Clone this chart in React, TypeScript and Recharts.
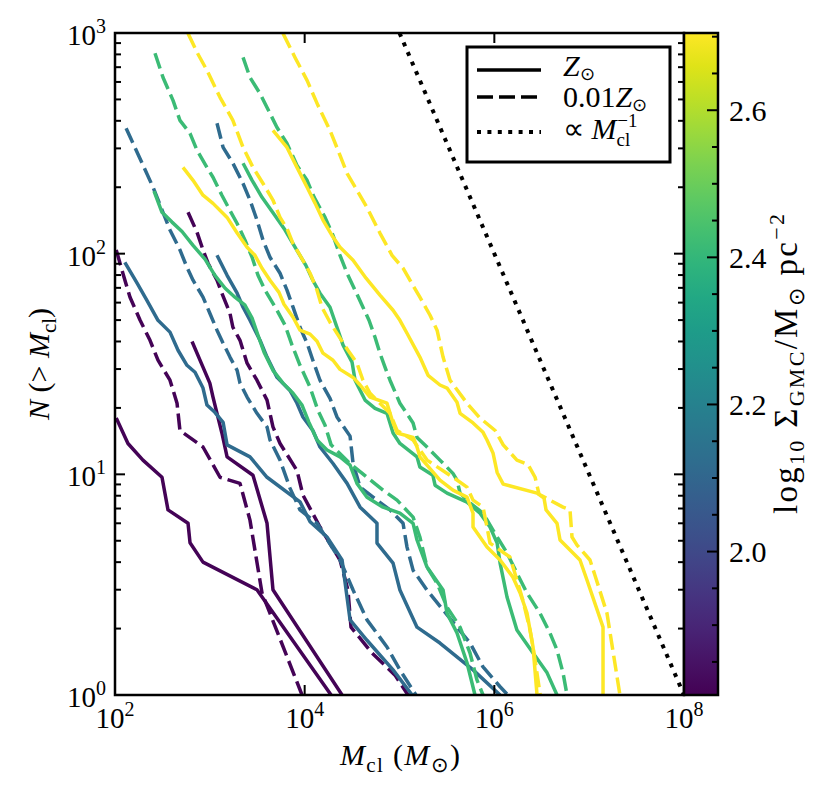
import { LineChart, Line, XAxis, YAxis } from "recharts";

const W = 832;
const H = 797;
const PLOT = { left: 115, top: 33, right: 684, bottom: 695 };
const FONT = "Liberation Serif";
const Y_AXIS_W = 60;
const X_AXIS_H = 40;

// axis ticks
const X_TICKS = [1e2, 1e4, 1e6, 1e8];
const X_TICK_EXP = ["2", "4", "6", "8"];
const Y_TICKS = [
  1, 2, 3, 4, 5, 6, 7, 8, 9, 10, 20, 30, 40, 50, 60, 70, 80, 90,
  100, 200, 300, 400, 500, 600, 700, 800, 900, 1000,
];
const Y_MAJOR = [1, 10, 100, 1000];
const Y_TICK_EXP = ["0", "1", "2", "3"];

// colorbar: log10 Sigma_GMC
const CBAR_MIN = 1.805;
const CBAR_MAX = 2.705;
const CBAR_MAJOR = [2.0, 2.2, 2.4, 2.6];
const CBAR_LABELS = ["2.0", "2.2", "2.4", "2.6"];
const CBAR_MINOR = [1.85, 1.9, 1.95, 2.05, 2.1, 2.15, 2.25, 2.3, 2.35, 2.45, 2.5, 2.55, 2.65, 2.7];
const VIRIDIS = [
  "#440154", "#471365", "#482475", "#463480", "#414487", "#3b528b", "#355f8d",
  "#2f6c8e", "#2a788e", "#25848e", "#21918c", "#1e9c89", "#22a884", "#2fb47c",
  "#44bf70", "#5ec962", "#7ad151", "#9bd93c", "#bddf26", "#dfe318", "#fde725",
];

// series colours (one per Sigma_GMC)
const C_PURPLE = "#440356";
const C_BLUE = "#2f6b8e";
const C_GREEN = "#3bbb75";
const C_YELLOW = "#fde725";

// [M_cl, N(>M_cl)]; A = lower-mass cloud, B = higher-mass cloud
const PURPLE_SOLAR_A = [
  [1.03e2, 18], [1.37e2, 13.8], [1.97e2, 11.6], [3.13e2, 9.7], [3.62e2, 6.9], [5.89e2, 6.0],
  [6.18e2, 4.9], [8.47e2, 4.0], [3.14e3, 3.0], [1.9e4, 1],
];
const PURPLE_LOWZ_A = [
  [1.03e2, 104], [1.21e2, 81.5], [1.44e2, 63.5], [1.84e2, 49.9], [2.34e2, 40.5], [2.84e2, 32.9],
  [3.8e2, 26.7], [4.51e2, 21.0], [4.84e2, 15.8], [8.47e2, 13.3], [1.28e3, 9.7], [2.08e3, 9.1],
  [2.65e3, 6.2], [3.55e3, 2.9], [9.38e3, 1],
];
const PURPLE_SOLAR_B = [
  [6.49e2, 40], [8.47e2, 30.6], [1.0e3, 25.9], [1.08e3, 22.4], [1.19e3, 18.9], [1.34e3, 15.4],
  [1.52e3, 12.0], [2.85e3, 9.9], [4.01e3, 6.0], [4.63e3, 3.0], [2.48e4, 1],
];
const PURPLE_LOWZ_B = [
  [5.89e2, 154], [7.33e2, 125], [8.47e2, 104], [9.57e2, 90.5], [1.19e3, 75.8], [1.34e3, 66.2],
  [1.63e3, 53.7], [1.75e3, 46.4], [2.08e3, 40.5], [2.47e3, 31.9], [3.14e3, 26.7], [4.01e3, 21.7],
  [4.63e3, 16.4], [5.5e3, 13.8], [8.3e3, 10.4], [9.59e3, 8.05], [1.45e4, 5.77], [2.36e4, 4.09],
  [2.86e4, 2.99], [3.08e4, 2.03], [5.13e4, 1.55], [8.97e4, 1.23], [1.23e5, 1],
];

const BLUE_SOLAR_A = [
  [1.27e2, 91.4], [1.71e2, 73.5], [2.17e2, 61.5], [2.84e2, 49.9], [3.8e2, 44.1], [4.62e2, 36.5],
  [5.74e2, 31.2], [6.98e2, 29.0], [8.47e2, 24.6], [9.33e2, 20.6], [1.13e3, 19.1], [1.38e3, 17.2],
  [1.52e3, 13.6], [2.65e3, 12.0], [4.01e3, 9.7], [8.93e3, 7.5], [1.14e4, 6.1], [1.72e4, 5.2],
  [2.48e4, 4.09], [3.01e4, 2.19], [4.54e4, 1.77], [8.55e4, 1.3], [1.36e5, 1],
];
const BLUE_LOWZ_A = [
  [1.31e2, 370], [2.52e2, 200], [3.8e2, 128], [4.84e2, 104], [5.74e2, 86.7], [6.65e2, 75.8],
  [8.47e2, 63.5], [1.0e3, 53.7], [1.19e3, 45.0], [1.38e3, 39.3], [1.63e3, 34.0], [1.94e3, 29.6],
  [2.08e3, 25.9], [2.47e3, 22.4], [3.14e3, 18.9], [4.01e3, 16.4], [4.31e3, 14.3], [5.5e3, 11.6],
  [7.0e3, 8.66], [8.93e3, 6.9], [1.35e4, 6.0], [2.36e4, 4.09], [3.24e4, 2.99], [4.54e4, 2.19],
  [7.38e4, 1.65], [1.01e5, 1.3], [1.49e5, 1],
];
const BLUE_SOLAR_B = [
  [1.19e3, 98.3], [1.52e3, 79.8], [1.94e3, 66.2], [2.24e3, 57.2], [2.65e3, 49.9], [3.38e3, 40.5],
  [4.01e3, 34.0], [5.11e3, 27.5], [7.0e3, 24.0], [8.3e3, 21.0], [9.59e3, 18.2], [1.22e4, 15.8],
  [1.45e4, 13.3], [1.99e4, 11.2], [2.8e4, 9.1], [3.84e4, 7.1], [5.79e4, 6.0], [5.79e4, 4.88],
  [8.55e4, 3.96], [1.01e5, 2.99], [1.53e5, 2.03], [2.67e5, 1.72], [5.96e5, 1.3], [1.15e6, 1],
];
const BLUE_LOWZ_B = [
  [1.19e3, 390], [1.38e3, 303], [1.75e3, 257], [2.24e3, 208], [2.65e3, 175], [3.14e3, 142],
  [3.64e3, 115], [4.31e3, 96.3], [5.5e3, 81.5], [6.51e3, 68.3], [7.54e3, 57.2], [8.93e3, 46.4],
  [1.06e4, 39.3], [1.22e4, 32.9], [1.45e4, 26.7], [1.85e4, 22.1], [2.19e4, 18.2], [3.01e4, 14.9],
  [3.24e4, 11.2], [3.84e4, 8.75], [5.26e4, 7.88], [7.94e4, 6.9], [1.09e5, 6.0], [1.2e5, 4.68],
  [1.39e5, 3.68], [1.95e5, 2.99], [2.88e5, 2.43], [4.04e5, 2.03], [5.54e5, 1.72], [7.6e5, 1.34],
  [1.15e6, 1.09], [1.39e6, 1],
];

const GREEN_SOLAR_A = [
  [2.58e2, 192], [3.13e2, 154], [3.99e2, 139], [5.09e2, 126], [6.65e2, 109], [8.89e2, 94.4],
  [1.13e3, 79.8], [1.45e3, 69.7], [1.84e3, 63.5], [2.35e3, 58.4], [2.79e3, 51.0], [3.22e3, 42.7],
  [3.73e3, 35.8], [4.63e3, 29.6], [5.91e3, 25.9], [7.54e3, 23.3], [9.38e3, 20.6], [1.11e4, 17.2],
  [1.35e4, 14.3], [1.72e4, 12.9], [2.36e4, 12.0], [3.01e4, 11.0], [3.56e4, 9.1], [4.54e4, 7.88],
  [6.7e4, 7.1], [1.01e5, 6.67], [1.39e5, 6.0], [1.53e5, 5.04], [1.95e5, 3.8], [2.88e5, 2.99],
  [3.17e5, 2.35], [4.04e5, 1.91], [5.15e5, 1.4], [6.25e5, 1],
];
const GREEN_LOWZ_A = [
  [2.64e2, 809], [3.21e2, 629], [4.09e2, 495], [4.84e2, 402], [6.18e2, 351], [7.33e2, 294],
  [9.33e2, 246], [1.08e3, 222], [1.34e3, 184], [1.63e3, 157], [1.94e3, 137], [2.35e3, 115],
  [2.79e3, 96.3], [3.22e3, 79.8], [3.82e3, 68.3], [5.11e3, 55.4], [6.21e3, 47.4], [7.36e3, 38.5],
  [8.93e3, 31.2], [1.14e4, 24.8], [1.38e4, 19.5], [1.64e4, 16.7], [1.9e4, 13.6], [3.01e4, 11.2],
  [4.54e4, 9.7], [6.7e4, 8.48], [9.42e4, 7.64], [1.39e5, 6.4], [1.64e5, 5.2], [1.95e5, 3.8],
  [2.49e5, 3.21], [3.17e5, 2.5], [4.35e5, 2.03], [5.54e5, 1.55], [6.56e5, 1.17], [7.6e5, 1],
];
const GREEN_SOLAR_B = [
  [2.24e3, 257], [2.79e3, 215], [3.55e3, 180], [4.86e3, 149], [6.21e3, 128], [7.91e3, 107],
  [1.03e4, 88.5], [1.22e4, 75.8], [1.45e4, 66.2], [1.85e4, 57.2], [2.19e4, 46.4], [2.54e4, 38.5],
  [3.16e4, 32.2], [3.4e4, 26.7], [4.33e4, 21.7], [5.52e4, 19.9], [7.38e4, 18.9], [8.55e4, 15.4],
  [1.01e5, 13.8], [1.53e5, 12.0], [1.64e5, 10.8], [2.25e5, 9.9], [2.37e5, 8.93], [3.17e5, 8.22],
  [5.15e5, 7.48], [7.06e5, 6.67], [9.0e5, 5.77], [1.07e6, 4.88], [1.15e6, 3.96], [1.36e6, 2.78],
  [1.73e6, 1.97], [2.56e6, 1.55], [3.6e6, 1.26], [4.58e6, 1],
];
const GREEN_LOWZ_B = [
  [2.24e3, 775], [2.65e3, 629], [3.38e3, 532], [4.01e3, 460], [5.11e3, 373], [6.51e3, 316],
  [8.3e3, 251], [1.06e4, 215], [1.26e4, 180], [1.64e4, 146], [1.99e4, 121], [2.36e4, 98.3],
  [2.8e4, 81.5], [3.4e4, 68.3], [4.03e4, 58.4], [4.77e4, 49.9], [5.52e4, 41.8], [6.22e4, 35.4],
  [7.03e4, 30.6], [7.94e4, 26.7], [1.01e5, 21.0], [1.39e5, 17.1], [1.53e5, 14.7], [1.95e5, 13.3],
  [2.67e5, 11.6], [3.66e5, 10.1], [4.04e5, 9.42], [4.35e5, 8.22], [5.54e5, 7.41], [7.6e5, 6.67],
  [9.68e5, 5.59], [1.36e6, 4.4], [1.73e6, 3.57], [2.21e6, 2.9], [3.03e6, 2.35], [3.86e6, 1.91],
  [4.58e6, 1.6], [5.3e6, 1.26], [5.84e6, 1],
];

const YELLOW_SOLAR_A = [
  [5.21e2, 246], [6.65e2, 215], [8.47e2, 184], [1.08e3, 169], [1.52e3, 146], [1.94e3, 124],
  [2.47e3, 107], [2.99e3, 98.3], [3.55e3, 85.9], [4.31e3, 75.8], [5.36e3, 66.8], [6.05e3, 59.0],
  [7.54e3, 51.5], [8.93e3, 45.0], [1.14e4, 43.2], [1.35e4, 40.1], [1.56e4, 35.4], [1.99e4, 32.9],
  [2.36e4, 29.9], [3.24e4, 27.5], [3.84e4, 25.4], [4.89e4, 22.4], [7.38e4, 21.0], [8.55e4, 17.1],
  [9.42e4, 15.4], [1.39e5, 14.7], [1.53e5, 13.3], [1.64e5, 12.0], [2.67e5, 9.42], [3.66e5, 8.48],
  [5.15e5, 7.88], [5.96e5, 6.67], [5.96e5, 5.77], [8.37e5, 4.68], [1.15e6, 4.09], [1.57e6, 3.42],
  [1.87e6, 2.9], [2.21e6, 2.35], [2.56e6, 1.65], [2.82e6, 1],
];
const YELLOW_LOWZ_A = [
  [5.89e2, 996], [7.33e2, 817], [9.33e2, 677], [1.28e3, 511], [1.75e3, 402], [2.24e3, 303],
  [2.85e3, 246], [3.64e3, 208], [4.63e3, 175], [5.5e3, 146], [6.51e3, 130], [7.54e3, 111],
  [9.59e3, 93.3], [1.14e4, 81.5], [1.35e4, 68.3], [1.52e4, 57.2], [1.85e4, 48.9], [2.36e4, 41.4],
  [2.86e4, 36.5], [3.56e4, 31.9], [4.12e4, 26.7], [4.89e4, 23.3], [6.22e4, 21.0], [7.94e4, 18.9],
  [9.42e4, 15.8], [1.39e5, 14.3], [1.95e5, 11.6], [3.66e5, 9.7], [5.15e5, 8.75], [5.96e5, 7.64],
  [7.6e5, 7.1], [8.37e5, 5.77], [9.0e5, 4.88], [1.46e6, 4.22], [1.73e6, 3.32], [2.0e6, 2.69],
  [2.38e6, 1.97], [2.56e6, 1.65], [3.05e6, 1],
];
const YELLOW_SOLAR_B = [
  [4.63e3, 362], [6.51e3, 303], [8.3e3, 246], [1.06e4, 200], [1.29e4, 169], [1.56e4, 142],
  [1.94e4, 121], [2.36e4, 107], [3.24e4, 93.3], [4.44e4, 77.4], [6.22e4, 64.9], [8.55e4, 55.4],
  [1.01e5, 49.9], [1.2e5, 43.6], [1.64e5, 34.0], [2.0e5, 28.1], [2.67e5, 25.4], [3.17e5, 24.6],
  [4.04e5, 21.2], [4.35e5, 18.9], [5.96e5, 17.1], [7.6e5, 15.5], [8.37e5, 14.3], [9.68e5, 12.5],
  [1.07e6, 10.2], [1.24e6, 9.03], [2.82e6, 8.22], [3.34e6, 7.8], [3.51e6, 6.9], [4.58e6, 6.0],
  [4.93e6, 5.04], [8.0e6, 4.09], [9.48e6, 3.32], [1.4e7, 2.03], [1.4e7, 1],
];
const YELLOW_LOWZ_B = [
  [5.91e3, 996], [7.91e3, 775], [1.06e4, 610], [1.38e4, 470], [1.85e4, 362], [2.36e4, 279],
  [2.8e4, 231], [3.56e4, 194], [4.54e4, 162], [6.22e4, 124], [8.34e4, 98.3], [1.09e5, 85.9],
  [1.64e5, 63.5], [2.1e5, 52.6], [2.49e5, 45.0], [2.88e5, 34.0], [3.41e5, 26.7], [5.15e5, 21.0],
  [7.06e5, 18.0], [1.02e6, 15.8], [1.24e6, 13.6], [1.73e6, 11.6], [2.26e6, 11.1], [2.69e6, 9.7],
  [2.96e6, 8.13], [5.3e6, 7.1], [6.28e6, 6.9], [6.59e6, 5.2], [7.45e6, 4.78], [1.02e7, 4.09],
  [1.15e7, 3.49], [1.54e7, 2.35], [2.11e7, 1],
];

// N proportional to 1/M reference line
const REF_SLOPE = [[1e5, 1000], [1e8, 1]];

const SOLID = undefined;
const DASHED = "16 6";
const DOTTED = "4 6.4";

const toRows = (pts: number[][]) => pts.map(([m, n]) => ({ m, n }));

const SERIES = [
  { id: "p-sa", color: C_PURPLE, dash: SOLID, pts: PURPLE_SOLAR_A },
  { id: "p-la", color: C_PURPLE, dash: DASHED, pts: PURPLE_LOWZ_A },
  { id: "p-sb", color: C_PURPLE, dash: SOLID, pts: PURPLE_SOLAR_B },
  { id: "p-lb", color: C_PURPLE, dash: DASHED, pts: PURPLE_LOWZ_B },
  { id: "b-sa", color: C_BLUE, dash: SOLID, pts: BLUE_SOLAR_A },
  { id: "b-la", color: C_BLUE, dash: DASHED, pts: BLUE_LOWZ_A },
  { id: "b-sb", color: C_BLUE, dash: SOLID, pts: BLUE_SOLAR_B },
  { id: "b-lb", color: C_BLUE, dash: DASHED, pts: BLUE_LOWZ_B },
  { id: "g-sa", color: C_GREEN, dash: SOLID, pts: GREEN_SOLAR_A },
  { id: "g-la", color: C_GREEN, dash: DASHED, pts: GREEN_LOWZ_A },
  { id: "g-sb", color: C_GREEN, dash: SOLID, pts: GREEN_SOLAR_B },
  { id: "g-lb", color: C_GREEN, dash: DASHED, pts: GREEN_LOWZ_B },
  { id: "y-sa", color: C_YELLOW, dash: SOLID, pts: YELLOW_SOLAR_A },
  { id: "y-la", color: C_YELLOW, dash: DASHED, pts: YELLOW_LOWZ_A },
  { id: "y-sb", color: C_YELLOW, dash: SOLID, pts: YELLOW_SOLAR_B },
  { id: "y-lb", color: C_YELLOW, dash: DASHED, pts: YELLOW_LOWZ_B },
];

const textStyle = { fontFamily: FONT, fill: "#000" };

function XTick(props: any) {
  const { x, payload } = props;
  const i = X_TICKS.indexOf(payload.value);
  return (
    <g>
      <line x1={x} x2={x} y1={PLOT.bottom} y2={PLOT.bottom - 10} stroke="#000" strokeWidth={2} />
      <line x1={x} x2={x} y1={PLOT.top} y2={PLOT.top + 10} stroke="#000" strokeWidth={2} />
      <text x={x} y={728} textAnchor="middle" fontSize={29} style={textStyle}>
        10<tspan dy={-12} fontSize={20}>{X_TICK_EXP[i]}</tspan>
      </text>
    </g>
  );
}

function YTick(props: any) {
  const { y, payload } = props;
  const i = Y_MAJOR.indexOf(payload.value);
  const len = i >= 0 ? 10 : 6;
  return (
    <g>
      <line x1={PLOT.left} x2={PLOT.left + len} y1={y} y2={y} stroke="#000" strokeWidth={2} />
      <line x1={PLOT.right} x2={PLOT.right - len} y1={y} y2={y} stroke="#000" strokeWidth={2} />
      {i >= 0 && (
        <text x={106} y={y + 12} textAnchor="end" fontSize={29} style={textStyle}>
          10<tspan dy={-12} fontSize={20}>{Y_TICK_EXP[i]}</tspan>
        </text>
      )}
    </g>
  );
}

const cbarY = (v: number) =>
  PLOT.bottom - ((v - CBAR_MIN) / (CBAR_MAX - CBAR_MIN)) * (PLOT.bottom - PLOT.top);

function Overlay() {
  const cbL = PLOT.right;
  const cbR = 718;
  return (
    <svg width={W} height={H} style={{ position: "absolute", left: 0, top: 0, pointerEvents: "none" }}>
      <defs>
        <linearGradient id="viridis" x1="0" y1="1" x2="0" y2="0">
          {VIRIDIS.map((c, i) => (
            <stop key={i} offset={i / (VIRIDIS.length - 1)} stopColor={c} />
          ))}
        </linearGradient>
      </defs>

      {/* axes frame */}
      <rect x={PLOT.left} y={PLOT.top} width={PLOT.right - PLOT.left} height={PLOT.bottom - PLOT.top}
        fill="none" stroke="#000" strokeWidth={2.5} />

      {/* colorbar */}
      <rect x={cbL} y={PLOT.top} width={cbR - cbL} height={PLOT.bottom - PLOT.top} fill="url(#viridis)" />
      <rect x={cbL} y={PLOT.top} width={cbR - cbL} height={PLOT.bottom - PLOT.top} fill="none" stroke="#000" strokeWidth={2.5} />
      {CBAR_MINOR.map((v) => (
        <line key={v} x1={cbR} x2={cbR - 6} y1={cbarY(v)} y2={cbarY(v)} stroke="#000" strokeWidth={2} />
      ))}
      {CBAR_MAJOR.map((v, i) => (
        <g key={v}>
          <line x1={cbR} x2={cbR - 11} y1={cbarY(v)} y2={cbarY(v)} stroke="#000" strokeWidth={2} />
          <text x={729} y={cbarY(v) + 10.5} fontSize={30} style={textStyle}>{CBAR_LABELS[i]}</text>
        </g>
      ))}
      <text transform="translate(797,364) rotate(-90)" textAnchor="middle" fontSize={33}
        textLength={300} lengthAdjust="spacing" style={textStyle}>
        log<tspan dy={7} fontSize={22}>10</tspan>
        <tspan dy={-7}> Σ</tspan>
        <tspan dy={7} fontSize={22}>GMC</tspan>
        <tspan dy={-7}>/M</tspan>
        <tspan dy={7} fontSize={22}>⊙</tspan>
        <tspan dy={-7}> pc</tspan>
        <tspan dy={-13} fontSize={22}>−2</tspan>
      </text>

      {/* axis labels */}
      <text x={400} y={765} textAnchor="middle" fontSize={30} textLength={120} lengthAdjust="spacing" style={textStyle}>
        <tspan fontStyle="italic">M</tspan>
        <tspan dy={7} fontSize={21}>cl</tspan>
        <tspan dy={-7}> (</tspan>
        <tspan fontStyle="italic">M</tspan>
        <tspan dy={7} fontSize={21}>⊙</tspan>
        <tspan dy={-7}>)</tspan>
      </text>
      <text transform="translate(49,364) rotate(-90)" textAnchor="middle" fontSize={30} style={textStyle}>
        <tspan fontStyle="italic">N</tspan>
        <tspan> (&gt; </tspan>
        <tspan fontStyle="italic">M</tspan>
        <tspan dy={7} fontSize={21}>cl</tspan>
        <tspan dy={-7}>)</tspan>
      </text>

      {/* legend */}
      <rect x={467} y={47} width={203} height={115} fill="#fff" stroke="#000" strokeWidth={3} />
      <line x1={477} x2={541} y1={70} y2={70} stroke="#000" strokeWidth={3.5} />
      <line x1={477} x2={541} y1={97} y2={97} stroke="#000" strokeWidth={3.5} strokeDasharray={DASHED} />
      <line x1={477} x2={541} y1={132} y2={132} stroke="#000" strokeWidth={4} strokeDasharray={DOTTED} />
      <text x={563} y={76} fontSize={30} style={textStyle}>
        <tspan fontStyle="italic">Z</tspan>
        <tspan dy={4} fontSize={18}>⊙</tspan>
      </text>
      <text x={563} y={107} fontSize={30} style={textStyle}>
        0.01<tspan fontStyle="italic">Z</tspan>
        <tspan dy={4} fontSize={18}>⊙</tspan>
      </text>
      <text x={563} y={139} fontSize={30} style={textStyle}>
        ∝ <tspan fontStyle="italic">M</tspan>
        <tspan dy={7} fontSize={19}>cl</tspan>
        <tspan dx={-13} dy={-19} fontSize={19}>−1</tspan>
      </text>
    </svg>
  );
}

export default function App() {
  return (
    <div style={{ position: "absolute", left: 0, top: 0, width: W, height: H, background: "#fff" }}>
      <LineChart
        width={W}
        height={H}
        margin={{
          top: PLOT.top,
          right: W - PLOT.right,
          bottom: H - PLOT.bottom - X_AXIS_H,
          left: PLOT.left - Y_AXIS_W,
        }}
      >
        <XAxis
          type="number"
          dataKey="m"
          scale="log"
          domain={[1e2, 1e8]}
          ticks={X_TICKS}
          interval={0}
          allowDataOverflow
          height={X_AXIS_H}
          axisLine={false}
          tickLine={false}
          tick={(p: any) => <XTick {...p} />}
        />
        <YAxis
          type="number"
          dataKey="n"
          scale="log"
          domain={[1, 1000]}
          ticks={Y_TICKS}
          interval={0}
          allowDataOverflow
          width={Y_AXIS_W}
          axisLine={false}
          tickLine={false}
          tick={(p: any) => <YTick {...p} />}
        />
        {SERIES.map((s) => (
          <Line
            key={s.id}
            data={toRows(s.pts)}
            dataKey="n"
            stroke={s.color}
            strokeWidth={3.5}
            strokeDasharray={s.dash}
            strokeLinejoin="round"
            dot={false}
            activeDot={false}
            isAnimationActive={false}
          />
        ))}
        <Line
          data={toRows(REF_SLOPE)}
          dataKey="n"
          stroke="#000"
          strokeWidth={4}
          strokeDasharray={DOTTED}
          dot={false}
          activeDot={false}
          isAnimationActive={false}
        />
      </LineChart>
      <Overlay />
    </div>
  );
}
